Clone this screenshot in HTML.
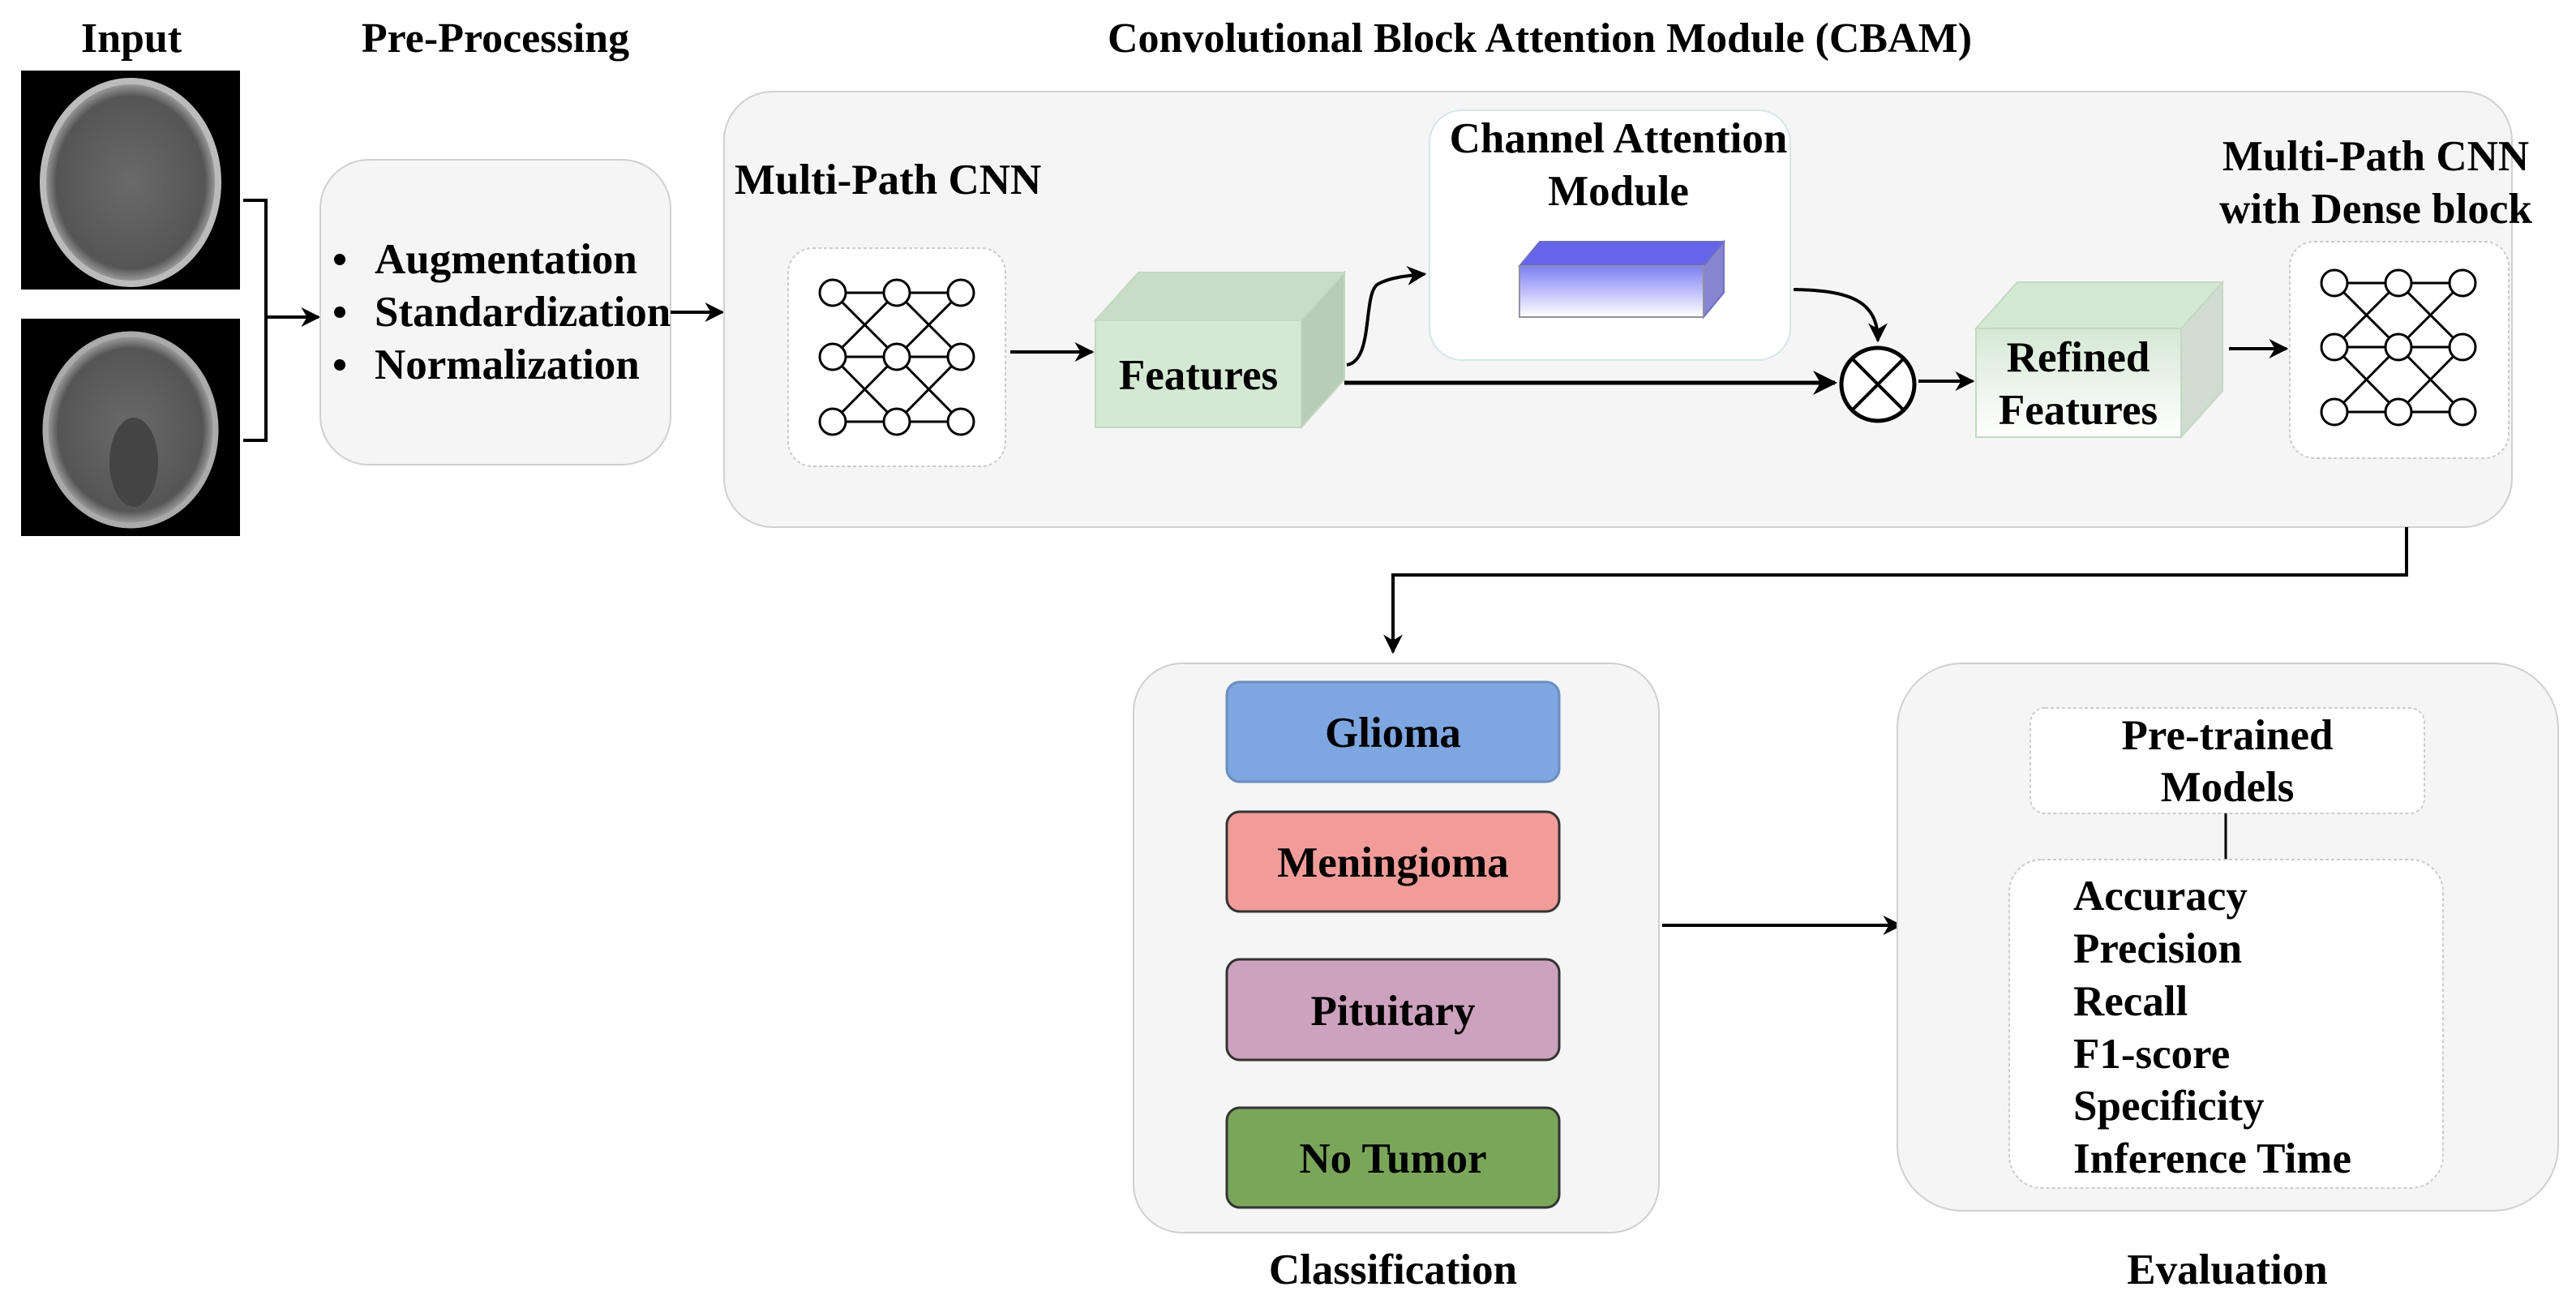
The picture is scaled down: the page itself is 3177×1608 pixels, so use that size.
<!DOCTYPE html>
<html><head><meta charset="utf-8"><style>
html,body{margin:0;padding:0;background:#fff}
svg text{font-family:"Liberation Serif",serif;font-weight:bold;fill:#000}
</style></head><body>
<svg width="3177" height="1603" viewBox="0 0 3177 1603" xmlns="http://www.w3.org/2000/svg">
<defs>
<marker id="ah" viewBox="0 0 10 10" refX="9" refY="5" markerWidth="6" markerHeight="6" orient="auto"><path d="M0,0 L10,5 L0,10 L3,5 z" fill="#000"/></marker>
<linearGradient id="bl" x1="0" y1="0" x2="0" y2="1"><stop offset="0" stop-color="#7f7ff5"/><stop offset="1" stop-color="#ffffff"/></linearGradient>
<linearGradient id="gr" x1="0" y1="0" x2="0" y2="1"><stop offset="0" stop-color="#d5e8d4"/><stop offset="1" stop-color="#ffffff"/></linearGradient>
<radialGradient id="brain" cx="0.5" cy="0.5" r="0.5"><stop offset="0" stop-color="#6a6a6a"/><stop offset="0.85" stop-color="#555"/><stop offset="1" stop-color="#aaa"/></radialGradient>
<g id="nn">
<g stroke="#000" stroke-width="3" fill="none">
<line x1="55" y1="55" x2="134" y2="55"/><line x1="134" y1="55" x2="213" y2="55"/>
<line x1="55" y1="134" x2="134" y2="134"/><line x1="134" y1="134" x2="213" y2="134"/>
<line x1="55" y1="214" x2="134" y2="214"/><line x1="134" y1="214" x2="213" y2="214"/>
<line x1="55" y1="55" x2="134" y2="134"/><line x1="55" y1="134" x2="134" y2="55"/>
<line x1="55" y1="134" x2="134" y2="214"/><line x1="55" y1="214" x2="134" y2="134"/>
<line x1="134" y1="55" x2="213" y2="134"/><line x1="134" y1="134" x2="213" y2="55"/>
<line x1="134" y1="134" x2="213" y2="214"/><line x1="134" y1="214" x2="213" y2="134"/>
</g>
<g fill="#fff" stroke="#000" stroke-width="3">
<circle cx="55" cy="55" r="16"/><circle cx="134" cy="55" r="16"/><circle cx="213" cy="55" r="16"/>
<circle cx="55" cy="134" r="16"/><circle cx="134" cy="134" r="16"/><circle cx="213" cy="134" r="16"/>
<circle cx="55" cy="214" r="16"/><circle cx="134" cy="214" r="16"/><circle cx="213" cy="214" r="16"/>
</g>
</g>
</defs>

<text x="162" y="64" font-size="52" text-anchor="middle">Input</text>
<text x="611" y="64" font-size="52" text-anchor="middle">Pre-Processing</text>
<text x="1899" y="64" font-size="52" text-anchor="middle">Convolutional Block Attention Module (CBAM)</text>

<rect x="26" y="87" width="270" height="270" fill="#000"/>
<ellipse cx="161" cy="225" rx="108" ry="125" fill="url(#brain)" stroke="#bbb" stroke-width="8"/>
<rect x="26" y="393" width="270" height="268" fill="#000"/>
<ellipse cx="161" cy="530" rx="105" ry="118" fill="url(#brain)" stroke="#aaa" stroke-width="7"/>
<ellipse cx="165" cy="570" rx="30" ry="55" fill="#444"/>

<polyline points="300,247 328,247 328,543 300,543" fill="none" stroke="#000" stroke-width="4"/>
<line x1="328" y1="391" x2="393" y2="391" stroke="#000" stroke-width="4" marker-end="url(#ah)"/>

<rect x="395" y="197" width="432" height="376" rx="60" fill="#f5f5f5" stroke="#d0d0d0" stroke-width="2"/>
<g font-size="53">
<circle cx="419" cy="320" r="7" fill="#000"/><text x="462" y="337">Augmentation</text>
<circle cx="419" cy="385" r="7" fill="#000"/><text x="462" y="402">Standardization</text>
<circle cx="419" cy="450" r="7" fill="#000"/><text x="462" y="467">Normalization</text>
</g>
<line x1="827" y1="385" x2="891" y2="385" stroke="#000" stroke-width="4" marker-end="url(#ah)"/>

<rect x="893" y="113" width="2205" height="537" rx="60" fill="#f5f5f5" stroke="#d0d0d0" stroke-width="2"/>
<text x="906" y="239" font-size="53">Multi-Path CNN</text>
<rect x="972" y="306" width="268" height="269" rx="30" fill="#fff" stroke="#ccc" stroke-width="2" stroke-dasharray="4,3"/>
<use href="#nn" x="972" y="306"/>
<line x1="1246" y1="434" x2="1347" y2="434" stroke="#000" stroke-width="4" marker-end="url(#ah)"/>

<polygon points="1351,395 1404,336 1658,336 1605,395" fill="#c9dcc8" stroke="#c4d8c3" stroke-width="2"/>
<polygon points="1605,395 1658,336 1658,468 1605,527" fill="#b9ccb8" stroke="#c4d8c3" stroke-width="2"/>
<rect x="1351" y="395" width="254" height="132" fill="#d5e8d4" stroke="#c4d8c3" stroke-width="2"/>
<text x="1478" y="480" font-size="53" text-anchor="middle">Features</text>

<rect x="1763" y="136" width="445" height="308" rx="40" fill="#fff" stroke="#d6e6e6" stroke-width="2"/>
<text x="1996" y="188" font-size="53" text-anchor="middle">Channel Attention</text>
<text x="1996" y="253" font-size="53" text-anchor="middle">Module</text>
<polygon points="1874,328 1899,298 2126,298 2101,328" fill="#6565ea" stroke="#7070c0" stroke-width="2"/>
<polygon points="2101,328 2126,298 2126,361 2101,391" fill="#8585d0" stroke="#7070c0" stroke-width="2"/>
<rect x="1874" y="328" width="227" height="63" fill="url(#bl)" stroke="#9090a0" stroke-width="2"/>

<path d="M1661,450 C1695,445 1680,360 1700,350 C1715,342 1735,340 1757,338" fill="none" stroke="#000" stroke-width="4" marker-end="url(#ah)"/>
<line x1="1658" y1="472" x2="2263" y2="472" stroke="#000" stroke-width="5" marker-end="url(#ah)"/>
<path d="M2212,357 C2280,358 2316,370 2316,420" fill="none" stroke="#000" stroke-width="4" marker-end="url(#ah)"/>
<circle cx="2316" cy="474" r="45" fill="#fff" stroke="#000" stroke-width="5"/>
<line x1="2284" y1="442" x2="2348" y2="506" stroke="#000" stroke-width="4"/>
<line x1="2348" y1="442" x2="2284" y2="506" stroke="#000" stroke-width="4"/>
<line x1="2366" y1="470" x2="2433" y2="470" stroke="#000" stroke-width="4" marker-end="url(#ah)"/>

<polygon points="2437,405 2488,348 2741,348 2690,405" fill="#d5e8d4" stroke="#c4d8c3" stroke-width="2"/>
<polygon points="2690,405 2741,348 2741,482 2690,539" fill="#d0dccf" stroke="#c4d8c3" stroke-width="2"/>
<rect x="2437" y="405" width="253" height="134" fill="url(#gr)" stroke="#c4d8c3" stroke-width="2"/>
<text x="2563" y="458" font-size="53" text-anchor="middle">Refined</text>
<text x="2563" y="523" font-size="53" text-anchor="middle">Features</text>
<line x1="2749" y1="430" x2="2820" y2="430" stroke="#000" stroke-width="4" marker-end="url(#ah)"/>

<text x="2930" y="210" font-size="53" text-anchor="middle">Multi-Path CNN</text>
<text x="2930" y="275" font-size="53" text-anchor="middle">with Dense block</text>
<rect x="2824" y="298" width="270" height="267" rx="30" fill="#fff" stroke="#ccc" stroke-width="2" stroke-dasharray="4,3"/>
<use href="#nn" x="2824" y="294"/>

<polyline points="2968,650 2968,709 1718,709 1718,804" fill="none" stroke="#000" stroke-width="4" marker-end="url(#ah)"/>

<rect x="1398" y="818" width="648" height="702" rx="60" fill="#f5f5f5" stroke="#d0d0d0" stroke-width="2"/>
<rect x="1513" y="841" width="410" height="123" rx="16" fill="#7ea6e0" stroke="#6c8ebf" stroke-width="3"/>
<rect x="1513" y="1001" width="410" height="123" rx="16" fill="#f19c99" stroke="#333" stroke-width="3"/>
<rect x="1513" y="1183" width="410" height="124" rx="16" fill="#cda2be" stroke="#333" stroke-width="3"/>
<rect x="1513" y="1366" width="410" height="123" rx="16" fill="#7aa65a" stroke="#333" stroke-width="3"/>
<g font-size="53" text-anchor="middle">
<text x="1718" y="921">Glioma</text>
<text x="1718" y="1081">Meningioma</text>
<text x="1718" y="1264">Pituitary</text>
<text x="1718" y="1446">No Tumor</text>
<text x="1718" y="1583">Classification</text>
<text x="2747" y="1583">Evaluation</text>
</g>
<line x1="2050" y1="1141" x2="2344" y2="1141" stroke="#000" stroke-width="4" marker-end="url(#ah)"/>

<rect x="2340" y="818" width="815" height="675" rx="80" fill="#f5f5f5" stroke="#d0d0d0" stroke-width="2"/>
<rect x="2504" y="873" width="486" height="130" rx="18" fill="#fff" stroke="#ccc" stroke-width="2" stroke-dasharray="4,3"/>
<text x="2747" y="924" font-size="53" text-anchor="middle">Pre-trained</text>
<text x="2747" y="988" font-size="53" text-anchor="middle">Models</text>
<line x1="2745" y1="1003" x2="2745" y2="1060" stroke="#000" stroke-width="3"/>
<rect x="2478" y="1060" width="535" height="405" rx="40" fill="#fff" stroke="#ccc" stroke-width="2" stroke-dasharray="4,3"/>
<g font-size="53">
<text x="2557" y="1122">Accuracy</text>
<text x="2557" y="1187">Precision</text>
<text x="2557" y="1252">Recall</text>
<text x="2557" y="1317">F1-score</text>
<text x="2557" y="1381">Specificity</text>
<text x="2557" y="1446">Inference Time</text>
</g>
</svg>
</body></html>
